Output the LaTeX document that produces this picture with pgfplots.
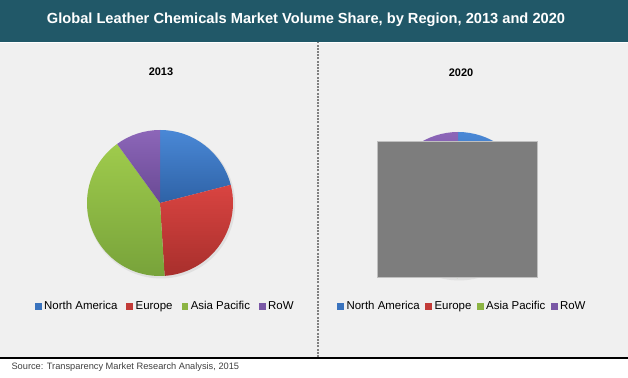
\documentclass[border=0pt]{standalone}
\usepackage{pgfplots}
\pgfplotsset{compat=1.18}
\usepackage{fontspec}
\setmainfont{Liberation Sans}
\definecolor{barteal}{HTML}{215868}
\definecolor{bggray}{HTML}{F0F0F0}
\definecolor{naTop}{HTML}{4A88D6}\definecolor{naBot}{HTML}{2E62A6}
\definecolor{euTop}{HTML}{D94441}\definecolor{euBot}{HTML}{A82F2C}
\definecolor{apTop}{HTML}{9FCB4C}\definecolor{apBot}{HTML}{77A23A}
\definecolor{rwTop}{HTML}{8C66B8}\definecolor{rwBot}{HTML}{694994}
\definecolor{naLeg}{HTML}{3A73BE}
\definecolor{euLeg}{HTML}{C23B38}
\definecolor{apLeg}{HTML}{8CB443}
\definecolor{rwLeg}{HTML}{7A58A6}
% slice: #1 cumulative share before, #2 share, #3 top colour, #4 bottom colour
\newcommand{\slice}[4]{%
  \shade[top color=#3, bottom color=#4] (axis cs:0,0) -- (axis cs:{cos(90-3.6*#1)},{sin(90-3.6*#1)})
    arc[start angle={90-3.6*#1}, delta angle={-3.6*#2}, radius=73bp] -- cycle;}
\pgfplotsset{
  pieaxis/.style={
    hide axis, x=73bp, y=73bp, xmin=-1, xmax=1, ymin=-1, ymax=1, anchor=origin,
    clip=false,
    legend columns=4,
    legend style={draw=none, fill=none, anchor=center,
      font=\fontsize{11.5}{13}\selectfont,
      nodes={text height=1.55ex, text depth=0.3ex, inner xsep=3bp},
      /tikz/every odd column/.append style={column sep=0bp}},
    legend image code/.code={\fill[##1] (0bp,-2.9bp) rectangle (5.8bp,2.9bp);},
  },
}
\begin{document}
\begin{tikzpicture}[x=1bp, y=1bp]
\path[use as bounding box] (0,0) rectangle (628,377);
\fill[white] (0,0) rectangle (628,377);
\fill[bggray] (0,20) rectangle (628,334);
\fill[barteal] (0,335) rectangle (628,377);
\draw[black, line width=2bp] (0,19) -- (628,19);
\draw[gray, line width=2bp, dash pattern=on 2bp off 1.2bp] (318,20) -- (318,335);
\node[white, font=\bfseries\fontsize{14.7}{16}\selectfont] at (306,357.5)
  {Global Leather Chemicals Market Volume Share, by Region, 2013 and 2020};
\node[font=\bfseries\fontsize{11}{13}\selectfont] at (161,305) {2013};
\node[font=\bfseries\fontsize{11}{13}\selectfont] at (461,304) {2020};
\node[anchor=west, text=black!75, font=\fontsize{9.3}{11}\selectfont] at (8,9.5) {Source: Transparency Market Research Analysis, 2015};

% 2013 pie
\begin{axis}[pieaxis, at={(160bp,174bp)},
  legend style={at={(0.54,-0.205)}, /tikz/every even column/.append style={column sep=6bp}}]
\fill[black!12] (axis cs:0.015,-0.02) circle[radius=74bp];
\slice{0}{21}{naTop}{naBot}
\slice{21}{28}{euTop}{euBot}
\slice{49}{41}{apTop}{apBot}
\slice{90}{10}{rwTop}{rwBot}
\addlegendimage{naLeg}\addlegendentry{North America}
\addlegendimage{euLeg}\addlegendentry{Europe}
\addlegendimage{apLeg}\addlegendentry{Asia Pacific}
\addlegendimage{rwLeg}\addlegendentry{RoW}
\end{axis}

% 2020 pie
\begin{axis}[pieaxis, at={(458bp,172bp)},
  legend style={at={(0.534,-0.192)}, /tikz/every even column/.append style={column sep=2.5bp}}]
\fill[black!12] (axis cs:0.015,-0.02) circle[radius=74bp];
\slice{0}{20}{naTop}{naBot}
\slice{20}{27}{euTop}{euBot}
\slice{47}{43}{apTop}{apBot}
\slice{90}{10}{rwTop}{rwBot}
\addlegendimage{naLeg}\addlegendentry{North America}
\addlegendimage{euLeg}\addlegendentry{Europe}
\addlegendimage{apLeg}\addlegendentry{Asia Pacific}
\addlegendimage{rwLeg}\addlegendentry{RoW}
\end{axis}
\fill[gray!98!black, draw=black!25, line width=0.6bp] (377,100) rectangle (537,236);
\end{tikzpicture}
\end{document}
